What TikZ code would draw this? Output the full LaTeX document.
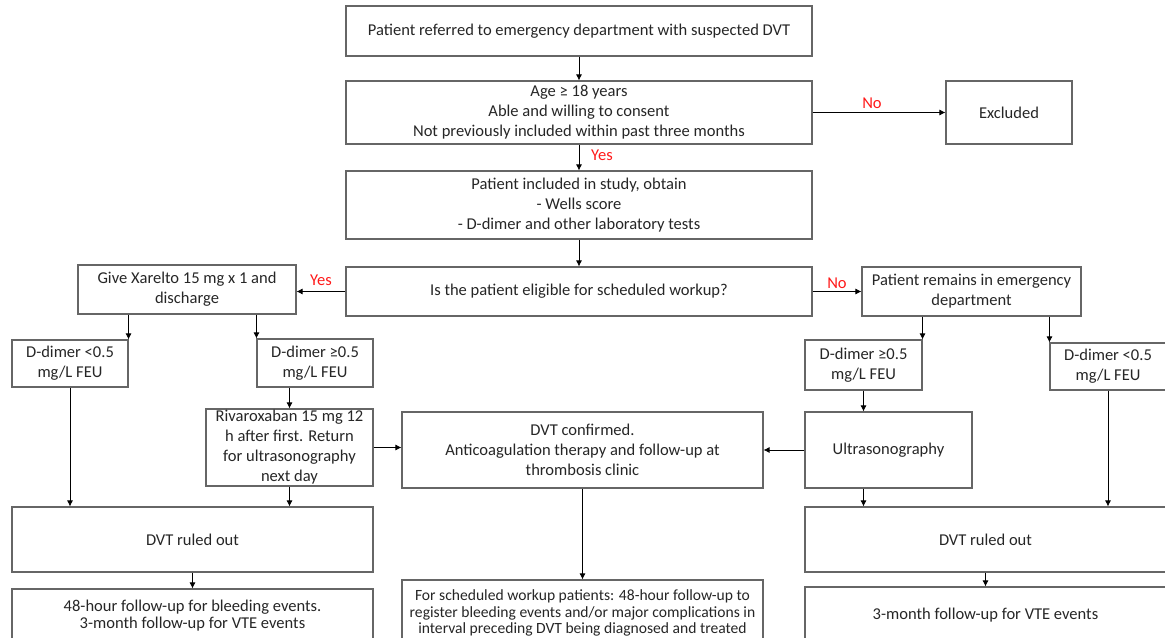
\documentclass[tikz,border=0pt]{standalone}
\usepackage{fontspec}
\setmainfont{Carlito}
\usetikzlibrary{arrows.meta,calc}
\definecolor{boxline}{rgb}{0.40,0.40,0.40}
\definecolor{txt}{rgb}{0.15,0.15,0.15}
\definecolor{lbl}{rgb}{1,0.1,0.1}
\tikzset{
  box/.style={draw=boxline, line width=0.8pt, inner sep=0pt, align=center,
    font=\fontsize{12.4}{15}\selectfont, text=txt},
  tight/.style={font=\fontsize{12.4}{12.8}\selectfont},
  tighter/.style={font=\fontsize{11.7}{12.4}\selectfont},
  arr/.style={-{Latex[length=4.5pt,width=4.5pt]}, line width=0.6pt, black},
  lab/.style={text=lbl, font=\fontsize{12.4}{14}\selectfont, inner sep=0pt}
}
\newcommand\bx[7][]{%
  \node[box, #1, minimum width={(#5-#3)*0.75pt}, minimum height={(#6-#4)*0.75pt}]
    (#2) at ({(#3+#5)/2},{(#4+#6)/2}) {#7};}
\begin{document}
\begin{tikzpicture}[x=0.75pt,y=-0.75pt]
\useasboundingbox (0,0) rectangle (1165,638);
\fill[white] (0,0) rectangle (1165,638);
\clip (0,0) rectangle (1165,638);
\bx{n1}{346}{6}{812}{56}{Patient referred to emergency department with suspected DVT}
\bx{n2}{346}{81}{812}{144}{Age ≥ 18 years\\Able and willing to consent\\Not previously included within past three months}
\bx{excl}{946}{81}{1072}{144}{Excluded}
\bx{n3}{346}{171}{812}{239}{Patient included in study, obtain\\- Wells score\\- D-dimer and other laboratory tests}
\bx{n4}{346}{267}{812}{316}{Is the patient eligible for scheduled workup?}
\bx{xar}{78}{265}{296}{314}{Give Xarelto 15 mg x 1 and\\discharge}
\bx{rem}{862}{267}{1081}{316}{Patient remains in emergency\\department}
\bx{dl1}{12}{340}{128}{387}{D-dimer <0.5\\mg/L FEU}
\bx{dl2}{257}{339}{373}{387}{D-dimer ≥0.5\\mg/L FEU}
\bx{dr2}{805}{340}{922}{390}{D-dimer ≥0.5\\mg/L FEU}
\bx{dr1}{1050}{343}{1166}{390}{D-dimer <0.5\\mg/L FEU}
\bx{riv}{206}{409}{373}{486}{Rivaroxaban 15 mg 12\\h after first. Return\\for ultrasonography\\next day}
\bx{conf}{402}{412}{763}{488}{DVT confirmed.\\Anticoagulation therapy and follow-up at\\thrombosis clinic}
\bx{us}{805}{412}{972}{488}{Ultrasonography}
\bx{rol}{12}{507}{373}{572}{DVT ruled out}
\bx{ror}{805}{507}{1166}{572}{DVT ruled out}
\bx[tight]{fl}{12}{589}{373}{643}{48-hour follow-up for bleeding events.\\3-month follow-up for VTE events}
\bx[tighter]{fm}{402}{580}{763}{646}{For scheduled workup patients: 48-hour follow-up to\\register bleeding events and/or major complications in\\interval preceding DVT being diagnosed and treated}
\bx{fr}{805}{587}{1166}{643}{3-month follow-up for VTE events}
% connectors
\draw[arr] (n1.south) -- (n2.north);
\draw[arr] (n2.east) -- (excl.west);
\node[lab] (lno1) at (872,103) {No};
\draw[arr] (n2.south) -- (n3.north);
\node[lab] (lyes1) at (602,155) {Yes};
\draw[arr] (n3.south) -- (n4.north);
\draw[arr] (n4.west) -- (n4.west -| xar.east);
\node[lab] (lyes2) at (321,280) {Yes};
\draw[arr] (n4.east) -- (n4.east -| rem.west);
\node[lab] (lno2) at (837,283) {No};
\draw[arr] (xar.south -| dl1.east) -- (dl1.north east);
\draw[arr] (xar.south -| dl2.west) -- (dl2.north west);
\draw[arr] (rem.south -| dr2.east) -- (dr2.north east);
\draw[arr] (rem.south -| dr1.west) -- (dr1.north west);
\draw[arr] (dl1.south) -- (dl1.south |- rol.north);
\draw[arr] (riv.north |- dl2.south) -- (riv.north);
\draw[arr] (riv.south) -- (riv.south |- rol.north);
\draw[arr] (riv.east) -- (riv.east -| conf.west);
\draw[arr] (us.west) -- (us.west -| conf.east);
\draw[arr] (dr2.south) -- (dr2.south |- us.north);
\draw[arr] (dr2.south |- us.south) -- (dr2.south |- ror.north);
\draw[arr] (dr1.south) -- (dr1.south |- ror.north);
\draw[arr] (rol.south) -- (fl.north);
\draw[arr] (conf.south) -- (fm.north);
\draw[arr] (ror.south) -- (fr.north);
\end{tikzpicture}
\end{document}
